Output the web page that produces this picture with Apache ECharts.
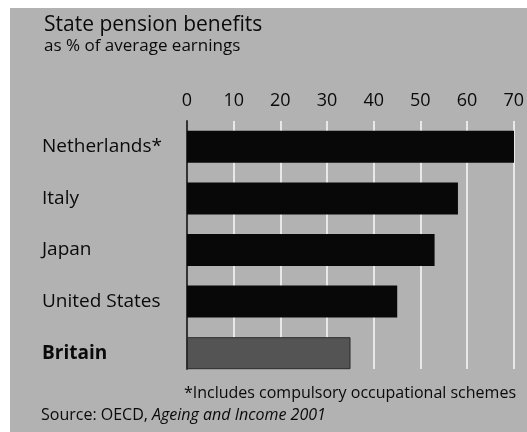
<!DOCTYPE html>
<html>
<head>
<meta charset="utf-8">
<script src="https://cdn.jsdelivr.net/npm/echarts@6/dist/echarts.min.js"></script>
<style>
  html, body { margin: 0; padding: 0; background: #ffffff; }
  #frame { position: absolute; left: 10px; top: 8px; width: 517px; height: 424px; background: #b2b2b2; }
  #chart { width: 527px; height: 432px; position: absolute; left: 0; top: 0; }
</style>
</head>
<body>
<div id="frame"></div>
<div id="chart"></div>
<script>
// State pension benefits, % of average earnings
const countries = ['Netherlands*', 'Italy', 'Japan', 'United States', 'Britain'];
const benefits = [70, 58, 53, 45, 35];
const highlighted = 'Britain';
const tickValues = [0, 10, 20, 30, 40, 50, 60, 70];

const FONT = '"Open Sans", "Noto Sans", sans-serif';
const INK = '#0a0a0a';
const WEIGHT = 500;

const chart = echarts.init(document.getElementById('chart'), null, { renderer: 'canvas' });

chart.setOption({
  backgroundColor: 'transparent',
  animation: false,
  title: {
    text: 'State pension benefits',
    subtext: 'as % of average earnings',
    left: 39,
    top: 10,
    itemGap: 2,
    textStyle: { fontFamily: FONT, fontSize: 21, fontWeight: WEIGHT, color: INK },
    subtextStyle: { fontFamily: FONT, fontSize: 17, fontWeight: WEIGHT, color: INK }
  },
  // grid 0 holds the bars, grid 1 the scale, its guide lines and the zero line
  grid: [
    { left: 187, right: 13, top: 121, bottom: 53 },
    { left: 187, right: 13, top: 121, bottom: 63 }
  ],
  xAxis: [
    {
      gridIndex: 0,
      type: 'value',
      min: tickValues[0],
      max: tickValues[tickValues.length - 1],
      interval: 10,
      show: false
    },
    {
      gridIndex: 1,
      type: 'value',
      position: 'top',
      min: tickValues[0],
      max: tickValues[tickValues.length - 1],
      interval: 10,
      axisLine: { show: false },
      axisTick: { show: false },
      axisLabel: { fontFamily: FONT, fontSize: 18, fontWeight: WEIGHT, color: INK, margin: 11 },
      splitLine: { show: true, lineStyle: { color: '#e8e8e8', width: 2 } }
    }
  ],
  yAxis: [
    {
      gridIndex: 0,
      type: 'category',
      data: countries,
      inverse: true,
      axisLine: { show: false },
      axisTick: { show: false },
      axisLabel: {
        fontFamily: FONT,
        fontSize: 19,
        fontWeight: WEIGHT,
        color: INK,
        align: 'left',
        margin: 145,
        formatter: (v) => v === highlighted ? '{b|' + v + '}' : v,
        rich: { b: { fontFamily: FONT, fontSize: 19, fontWeight: 'bold', color: INK } }
      }
    },
    {
      gridIndex: 1,
      type: 'category',
      data: countries,
      inverse: true,
      axisLine: { show: true, lineStyle: { color: '#333', width: 2 } },
      axisTick: { show: false },
      axisLabel: { show: false }
    }
  ],
  series: [{
    type: 'bar',
    xAxisIndex: 0,
    yAxisIndex: 0,
    data: benefits.map((v, i) => ({
      value: v,
      itemStyle: countries[i] === highlighted
        ? { color: '#545454', borderColor: '#2a2a2a', borderWidth: 1 }
        : { color: '#080808' }
    })),
    barWidth: 32,
    silent: true
  }],
  graphic: [
    {
      type: 'text',
      right: 11,
      top: 385,
      style: {
        text: '*Includes compulsory occupational schemes',
        fontFamily: FONT, fontSize: 16, fontWeight: WEIGHT, fill: INK
      }
    },
    {
      type: 'text',
      left: 41,
      top: 407,
      style: {
        text: 'Source: OECD, {i|Ageing and Income 2001}',
        fontFamily: FONT, fontSize: 16, fontWeight: WEIGHT, fill: INK,
        rich: { i: { fontFamily: FONT, fontSize: 16, fontWeight: WEIGHT, fontStyle: 'italic', fill: INK } }
      }
    }
  ]
});
</script>
</body>
</html>
